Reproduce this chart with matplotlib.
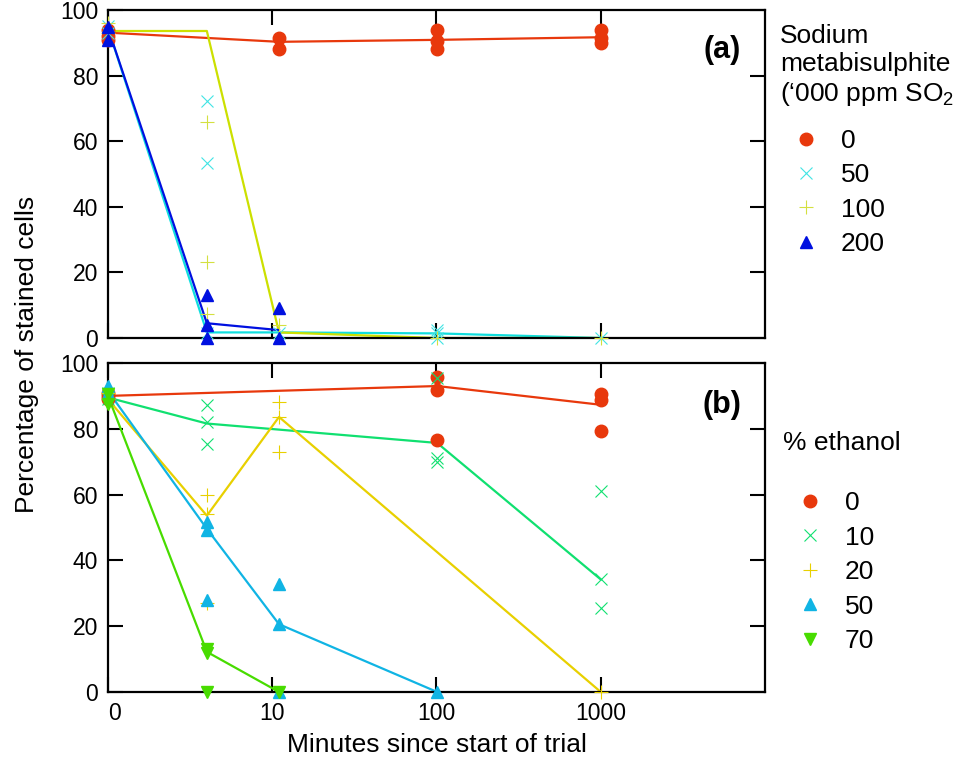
import numpy as np
import matplotlib
matplotlib.use('Agg')
from matplotlib import pyplot as plt
from matplotlib.lines import Line2D

plt.rcParams['font.family'] = ['Liberation Sans', 'DejaVu Sans']
plt.rcParams['mathtext.fontset'] = 'custom'
plt.rcParams['mathtext.rm'] = 'Liberation Sans'

# (a) sodium metabisulphite, '000 ppm SO2 -- minutes / % stained cells
so2_0_t = [0, 0, 0, 10, 10, 100, 100, 100, 1000, 1000, 1000]
so2_0_v = [94, 92, 91, 91.6, 88.1, 93.9, 90.6, 88.1, 93.9, 91.4, 90.0]
so2_0_lt = [0, 10, 100, 1000]
so2_0_lv = [93.1, 90.3, 90.9, 91.7]

so2_50_t = [0, 0, 3, 3, 3, 10, 100, 100, 100, 1000]
so2_50_v = [95, 93, 72.3, 53.3, 1.5, 1.5, 2.4, 1.5, 0, 0]
so2_50_lt = [0, 3, 10, 100, 1000]
so2_50_lv = [94.5, 1.7, 1.7, 1.4, 0]

so2_100_t = [0, 0, 3, 3, 3, 10, 100, 1000]
so2_100_v = [96, 93, 65.8, 23.1, 7.3, 4.0, 0, 0]
so2_100_lt = [0, 3, 10, 100, 1000]
so2_100_lv = [93.6, 93.6, 1.7, 0, 0]

so2_200_t = [0, 0, 3, 3, 3, 10, 10]
so2_200_v = [94.9, 90.9, 13.1, 4.0, 0, 9.0, 0]
so2_200_lt = [0, 3, 10]
so2_200_lv = [94.5, 4.5, 2.4]

# (b) % ethanol
eth_0_t = [0, 0, 0, 100, 100, 100, 1000, 1000, 1000]
eth_0_v = [91, 90, 89, 95.8, 91.7, 76.7, 90.7, 88.7, 79.4]
eth_0_lt = [0, 100, 1000]
eth_0_lv = [90, 93, 87.3]

eth_10_t = [0, 0, 3, 3, 3, 100, 100, 100, 1000, 1000, 1000]
eth_10_v = [91, 89, 87.3, 82.2, 75.4, 95.5, 71.1, 69.8, 61.0, 34.2, 25.5]
eth_10_lt = [0, 3, 100, 1000]
eth_10_lv = [89.5, 81.6, 75.7, 34.2]

eth_20_t = [0, 0, 3, 3, 3, 10, 10, 10, 1000]
eth_20_v = [91, 89, 60.0, 54.1, 26.9, 88.0, 83.6, 72.8, 0]
eth_20_lt = [0, 3, 10, 1000]
eth_20_lv = [89, 53.6, 83.6, 0]

eth_50_t = [0, 0, 3, 3, 3, 10, 10, 10, 100]
eth_50_v = [93, 91, 51.6, 49.1, 27.9, 32.9, 20.8, 0, 0]
eth_50_lt = [0, 3, 10, 100]
eth_50_lv = [91.5, 49.6, 20.6, 0]

eth_70_t = [0, 0, 3, 3, 3, 10]
eth_70_v = [90.6, 87.6, 13.2, 11.7, 0, 0]
eth_70_lt = [0, 3, 10]
eth_70_lv = [90, 12.2, 0]

so2_labels = ['0', '50', '100', '200']
eth_labels = ['0', '10', '20', '50', '70']
tick_pos = [0, 9, 99, 999]
tick_labels = ['0', '10', '100', '1000']

fig = plt.figure(figsize=(9.58, 7.58), dpi=100)
ax1 = fig.add_axes([0.1127, 0.5541, 0.6858, 0.4327])
ax2 = fig.add_axes([0.1127, 0.0871, 0.6858, 0.4340])


def series(ax, t, v, lt, lv, color, marker, ms, mew=1.0, mcolor=None):
    ax.plot(lt, lv, color=color, lw=1.6, zorder=2)
    ax.plot(t, v, ls='none', marker=marker, ms=ms, mew=mew,
            color=mcolor or color, clip_on=False, zorder=3)
    return Line2D([], [], ls='none', marker=marker, ms=ms, mew=mew,
                  color=mcolor or color)


# panel (a)
h1 = [
    series(ax1, so2_0_t, so2_0_v, so2_0_lt, so2_0_lv, '#e8380c', 'o', 9),
    series(ax1, so2_50_t, so2_50_v, so2_50_lt, so2_50_lv, '#10dede', 'x', 8, 0.8, '#40e4e4'),
    series(ax1, so2_100_t, so2_100_v, so2_100_lt, so2_100_lv, '#cce000', '+', 10, 0.8, '#d4e040'),
    series(ax1, so2_200_t, so2_200_v, so2_200_lt, so2_200_lv, '#0010e0', '^', 9),
]

# panel (b)
h2 = [
    series(ax2, eth_0_t, eth_0_v, eth_0_lt, eth_0_lv, '#e8380c', 'o', 9),
    series(ax2, eth_10_t, eth_10_v, eth_10_lt, eth_10_lv, '#10e070', 'x', 8, 0.8),
    series(ax2, eth_20_t, eth_20_v, eth_20_lt, eth_20_lv, '#e8d000', '+', 10, 0.8),
    series(ax2, eth_50_t, eth_50_v, eth_50_lt, eth_50_lv, '#10b4e4', '^', 9),
    series(ax2, eth_70_t, eth_70_v, eth_70_lt, eth_70_lv, '#48dc00', 'v', 9),
]

for ax in (ax1, ax2):
    ax.set_xscale('function', functions=(lambda t: np.log10(np.asarray(t) + 1),
                                         lambda x: 10 ** np.asarray(x) - 1))
    ax.set_xlim(0, 9999)
    ax.set_ylim(0, 100)
    ax.set_xticks(tick_pos)
    ax.set_yticks([0, 20, 40, 60, 80, 100])
    ax.minorticks_off()
    ax.tick_params(direction='in', length=11, width=1.5, top=True, right=True,
                   labelsize=16.5, pad=7)
    for s in ax.spines.values():
        s.set_linewidth(1.6)

ax1.set_xticklabels([])
ax2.set_xticklabels(tick_labels)
ax2.get_xticklabels()[0].set_horizontalalignment('left')

ax1.text(0.935, 0.878, '(a)', transform=ax1.transAxes, fontsize=22,
         fontweight='bold', ha='center', va='center')
ax2.text(0.935, 0.872, '(b)', transform=ax2.transAxes, fontsize=22,
         fontweight='bold', ha='center', va='center')

ax2.set_xlabel('Minutes since start of trial', fontsize=19, labelpad=6)
fig.text(0.028, 1 - 354 / 758, 'Percentage of stained cells', rotation=90,
         fontsize=19, ha='center', va='center')

fig.text(780 / 958, 1 - 66 / 758, 'Sodium\nmetabisulphite\n(\u2018000 ppm SO$_2$',
         fontsize=19, ha='left', va='center', linespacing=1.22)
fig.text(783 / 958, 1 - 443 / 758, '% ethanol', fontsize=19, ha='left', va='center')

fig.legend(h1, so2_labels, loc='upper left', bbox_to_anchor=(780 / 958, 1 - 129 / 758),
           frameon=False, fontsize=19, borderpad=0, borderaxespad=0,
           handlelength=2.0, handletextpad=0.3, labelspacing=0.39)
fig.legend(h2, eth_labels, loc='upper left', bbox_to_anchor=(784 / 958, 1 - 491 / 758),
           frameon=False, fontsize=19, borderpad=0, borderaxespad=0,
           handlelength=2.0, handletextpad=0.3, labelspacing=0.4)

fig.savefig('out.png', dpi=100)
